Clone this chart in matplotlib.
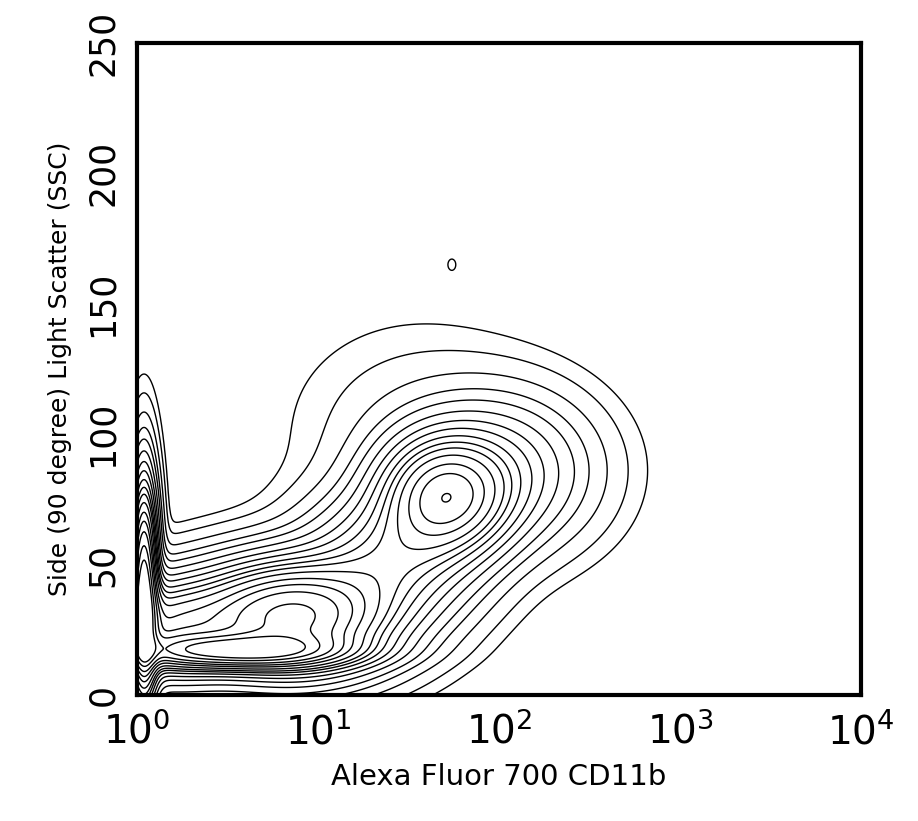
import matplotlib
matplotlib.use('Agg')
import matplotlib.pyplot as plt
import numpy as np

# density model: gaussian populations in (log10 x, ssc) space
pop_logx = [0.04, 0.55, 0.85, 1.70, 1.40, 2.00, 1.55, 0.15, 1.74]
pop_ssc = [40.0, 17.0, 30.0, 76.0, 52.0, 86.0, 102.0, 25.0, 165.0]
pop_sx = [0.045, 0.35, 0.33, 0.22, 0.28, 0.30, 0.38, 0.25, 0.02]
pop_sy = [25.0, 4.0, 13.0, 14.0, 15.0, 17.0, 22.0, 12.0, 2.0]
pop_w = [3.0, 2.2, 2.5, 1.6, 0.8, 0.5, 0.06, 1.2, 0.02]

contour_levels = [0.012, 0.03, 0.07, 0.13, 0.2, 0.3, 0.42, 0.55, 0.7, 0.85, 1.0, 1.2, 1.45, 1.7, 2.0, 2.4, 2.8]

lx = np.linspace(0, 4, 600)
yy = np.linspace(0, 250, 600)
LX, YY = np.meshgrid(lx, yy)
Z = np.zeros_like(LX)
for mx, my, sx, sy, w in zip(pop_logx, pop_ssc, pop_sx, pop_sy, pop_w):
    Z += w * np.exp(-0.5 * (((LX - mx) / sx) ** 2 + ((YY - my) / sy) ** 2))

fig = plt.figure(figsize=(9.18, 8.21), dpi=100)
ax = fig.add_axes([0.149, 0.153, 0.789, 0.795])
ax.contour(10 ** LX, YY, Z, levels=contour_levels, colors='black', linewidths=1.0)
ax.set_xscale('log')
ax.set_xlim(1, 1e4)
ax.set_ylim(0, 250)
ax.set_xticks([1, 10, 100, 1000, 10000])
ax.set_xticklabels([r'$10^0$', r'$10^1$', r'$10^2$', r'$10^3$', r'$10^4$'], fontsize=28)
ax.set_yticks([0, 50, 100, 150, 200, 250])
ax.set_yticklabels(['0', '50', '100', '150', '200', '250'], fontsize=25, rotation=90, va='center')
ax.tick_params(length=0, pad=12)
ax.minorticks_off()
for s in ax.spines.values():
    s.set_linewidth(3)
ax.set_xlabel('Alexa Fluor 700 CD11b', fontsize=21, labelpad=8)
ax.set_ylabel('Side (90 degree) Light Scatter (SSC)', fontsize=18, labelpad=10)
fig.savefig('out.png', dpi=100)
